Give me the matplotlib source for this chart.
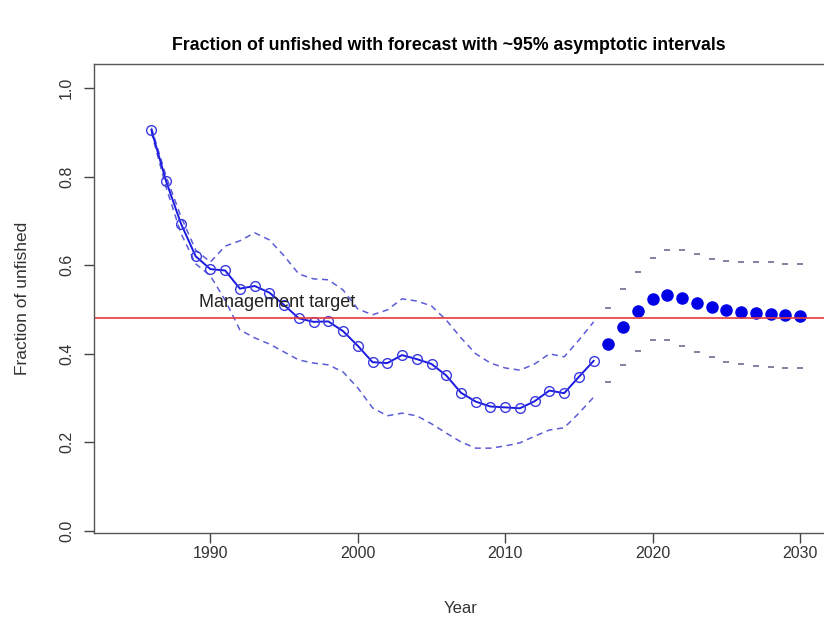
import matplotlib
matplotlib.use("Agg")
import matplotlib.pyplot as plt
import numpy as np

plt.rcParams['font.family'] = ['Liberation Sans', 'DejaVu Sans']

# assessment years with estimated depletion and ~95% bounds
years = np.arange(1986, 2017)
frac = [0.905, 0.789, 0.694, 0.620, 0.591, 0.588, 0.547, 0.553, 0.538, 0.510,
        0.480, 0.472, 0.473, 0.451, 0.418, 0.381, 0.379, 0.397, 0.388, 0.377,
        0.351, 0.312, 0.292, 0.281, 0.279, 0.277, 0.293, 0.317, 0.311, 0.348,
        0.384]
upper = [0.910, 0.800, 0.710, 0.634, 0.607, 0.643, 0.655, 0.673, 0.657, 0.621,
         0.580, 0.569, 0.567, 0.544, 0.501, 0.488, 0.499, 0.524, 0.519, 0.508,
         0.476, 0.436, 0.400, 0.379, 0.368, 0.363, 0.377, 0.400, 0.393, 0.431,
         0.472]
lower = [0.900, 0.775, 0.672, 0.603, 0.576, 0.521, 0.454, 0.436, 0.422, 0.404,
         0.386, 0.379, 0.375, 0.359, 0.323, 0.278, 0.260, 0.266, 0.260, 0.242,
         0.221, 0.201, 0.187, 0.187, 0.192, 0.199, 0.214, 0.228, 0.233, 0.266,
         0.302]

# forecast years
fyears = np.arange(2017, 2031)
ffrac = [0.422, 0.461, 0.497, 0.524, 0.533, 0.527, 0.515, 0.506, 0.499, 0.494,
         0.491, 0.489, 0.487, 0.486]
fupper = [0.504, 0.546, 0.585, 0.617, 0.634, 0.634, 0.625, 0.615, 0.609, 0.607,
          0.607, 0.606, 0.603, 0.602]
flower = [0.337, 0.375, 0.406, 0.430, 0.430, 0.418, 0.403, 0.392, 0.382, 0.377,
          0.373, 0.370, 0.367, 0.367]

target = 0.48

fig = plt.figure(figsize=(8.24, 6.19), dpi=100)
ax = fig.add_axes([93.5 / 824, 86 / 619, 733.5 / 824, 469 / 619])

ax.plot(years, upper, color='#5c5cd6', lw=1.1, ls=(0, (4, 3)))
ax.plot(years, lower, color='#5c5cd6', lw=1.1, ls=(0, (4, 3)))
ax.plot(years, frac, color='#1a1ae0', lw=1.4, marker='o', ms=7,
        mfc='none', mec='#3a3ae0', mew=1.0)

ax.plot(fyears, ffrac, ls='none', marker='o', ms=8, color='#0000e6')
ax.plot(fyears, fupper, ls='none', marker='_', ms=4, mew=1.3, color='#77779a')
ax.plot(fyears, flower, ls='none', marker='_', ms=4, mew=1.3, color='#77779a')

ax.axhline(target, color='#e8383d', lw=1.2)
ax.text(1994.5, 0.515, 'Management target', ha='center', va='center',
        fontsize=13, color='#222222')

ax.set_xlim(1982.07, 2031.83)
ax.set_ylim(-0.0045, 1.054)
ax.set_xticks([1990, 2000, 2010, 2020, 2030])
ax.set_yticks([0.0, 0.2, 0.4, 0.6, 0.8, 1.0])
ax.set_yticklabels(['0.0', '0.2', '0.4', '0.6', '0.8', '1.0'],
                   rotation=90, va='center')
ax.tick_params(direction='out', length=7, width=1, color='#444444',
               labelsize=11.5, labelcolor='#333333')
ax.tick_params(axis='x', pad=2)
ax.tick_params(axis='y', pad=7)
for s in ax.spines.values():
    s.set_color('#555555')
    s.set_linewidth(1)

ax.set_xlabel('Year', fontsize=12, color='#333333', labelpad=29)
ax.set_ylabel('Fraction of unfished', fontsize=12.5, color='#333333', labelpad=21)
fig.text(449 / 824, 1 - 45 / 619,
         'Fraction of unfished with forecast with ~95% asymptotic intervals',
         ha='center', va='center', fontsize=12.8, fontweight='bold')

fig.savefig('out.png', dpi=100)
